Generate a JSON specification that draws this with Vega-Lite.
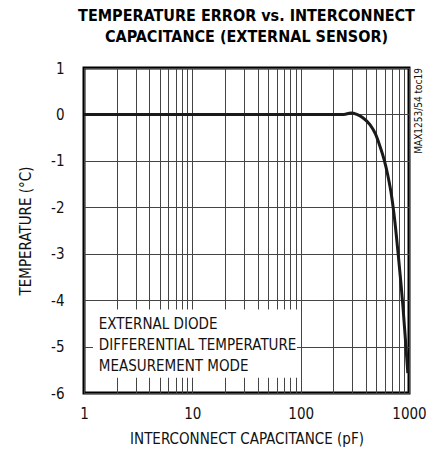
{
  "$schema": "https://vega.github.io/schema/vega-lite/v6.json",
  "width": 325,
  "height": 325,
  "autosize": {"type": "none"},
  "padding": {"left": 84, "top": 68, "right": 17, "bottom": 62},
  "background": "white",
  "config": {
    "font": "DejaVu Sans Condensed, sans-serif",
    "view": {"stroke": "black", "strokeWidth": 3},
    "axis": {
      "grid": true,
      "gridColor": "#444444",
      "gridWidth": 1,
      "gridOpacity": 1,
      "ticks": false,
      "domain": false,
      "labelFlush": false,
      "labelOverlap": false,
      "labelFont": "DejaVu Sans Condensed, sans-serif",
      "titleFont": "DejaVu Sans Condensed, sans-serif",
      "labelFontSize": 15,
      "titleFontSize": 15,
      "titleFontWeight": "normal",
      "labelColor": "#111111",
      "titleColor": "#111111"
    }
  },
  "title": {
    "text": ["TEMPERATURE ERROR vs. INTERCONNECT", "CAPACITANCE (EXTERNAL SENSOR)"],
    "font": "DejaVu Sans Condensed, sans-serif",
    "fontSize": 16,
    "fontWeight": "bold",
    "color": "black",
    "anchor": "middle",
    "frame": "group",
    "offset": 16,
    "lineHeight": 21
  },
  "layer": [
    {
      "data": {"values": [
        {"cap": 1, "temp": 0},
        {"cap": 10, "temp": 0},
        {"cap": 100, "temp": 0},
        {"cap": 250, "temp": 0},
        {"cap": 290, "temp": 0.03},
        {"cap": 330, "temp": 0.0},
        {"cap": 375, "temp": -0.07},
        {"cap": 436, "temp": -0.22},
        {"cap": 490, "temp": -0.42},
        {"cap": 540, "temp": -0.69},
        {"cap": 590, "temp": -0.98},
        {"cap": 640, "temp": -1.33},
        {"cap": 690, "temp": -1.75},
        {"cap": 740, "temp": -2.3},
        {"cap": 790, "temp": -2.95},
        {"cap": 840, "temp": -3.6},
        {"cap": 880, "temp": -4.15},
        {"cap": 920, "temp": -4.75},
        {"cap": 950, "temp": -5.2},
        {"cap": 975, "temp": -5.57}
      ]},
      "mark": {"type": "line", "color": "#1a1a1a", "strokeWidth": 3, "interpolate": "monotone"},
      "encoding": {
        "x": {
          "field": "cap",
          "type": "quantitative",
          "scale": {"type": "log", "domain": [1, 1000]},
          "axis": {
            "title": "INTERCONNECT CAPACITANCE (pF)",
            "values": [1,2,3,4,5,6,7,8,9,10,20,30,40,50,60,70,80,90,100,200,300,400,500,600,700,800,900,1000],
            "labelExpr": "indexof([1,10,100,1000], datum.value) >= 0 ? datum.value : ''",
            "labelPadding": 13,
            "titlePadding": 10
          }
        },
        "y": {
          "field": "temp",
          "type": "quantitative",
          "scale": {"domain": [-6, 1], "nice": false, "zero": false},
          "axis": {
            "title": "TEMPERATURE (°C)",
            "values": [-6,-5,-4,-3,-2,-1,0,1],
            "labelExpr": "datum.value < 0 ? '-' + abs(datum.value) : '' + datum.value",
            "labelPadding": 20,
            "titlePadding": 17
          }
        }
      }
    },
    {
      "data": {"values": [{}]},
      "mark": {"type": "rect", "fill": "white"},
      "encoding": {
        "x": {"datum": 1.21, "type": "quantitative"},
        "x2": {"datum": 92.6},
        "y": {"datum": -4.2, "type": "quantitative"},
        "y2": {"datum": -5.67}
      }
    },
    {
      "data": {"values": [{}]},
      "mark": {"type": "text", "align": "left", "baseline": "middle", "fontSize": 15, "lineHeight": 21, "color": "#111111",
        "font": "DejaVu Sans Condensed, sans-serif"},
      "encoding": {
        "x": {"datum": 1.37, "type": "quantitative"},
        "y": {"datum": -4.52, "type": "quantitative"},
        "text": {"value": ["EXTERNAL DIODE", "DIFFERENTIAL TEMPERATURE", "MEASUREMENT MODE"]}
      }
    },
    {
      "data": {"values": [{}]},
      "mark": {"type": "text", "align": "right", "baseline": "middle", "angle": 270, "fontSize": 10, "color": "#111111",
        "font": "DejaVu Sans Condensed, sans-serif"},
      "encoding": {
        "x": {"datum": 1250, "type": "quantitative"},
        "y": {"datum": 1, "type": "quantitative"},
        "text": {"value": "MAX1253/54 toc19"}
      }
    }
  ]
}
